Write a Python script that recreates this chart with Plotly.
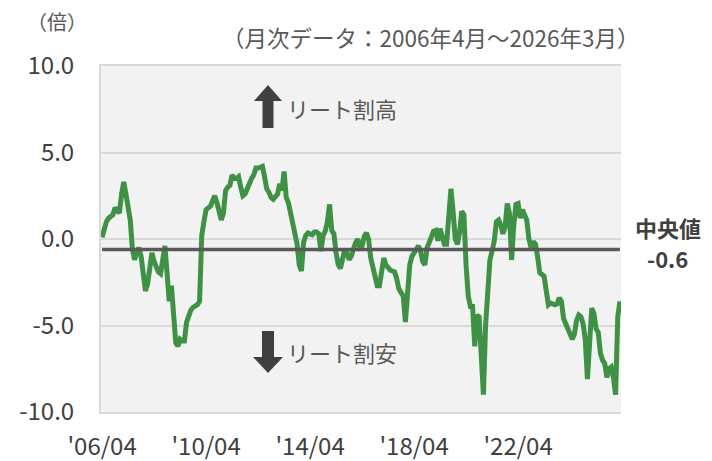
import plotly.graph_objects as go

# 月次データ 2006/04 - 2026/03 (各行 = 4月〜翌3月)
VALUES = [
    0.1, 0.6, 1.0, 1.2, 1.3, 1.4, 1.8, 1.6, 1.5, 2.6, 3.3, 2.6,
    2.0, 1.1, -0.6, -1.2, -0.8, -0.5, -1.0, -2.2, -3.0, -2.6, -1.5, -0.8,
    -1.3, -1.7, -1.9, -2.0, -1.3, -0.4, -2.0, -3.6, -2.7, -4.5, -6.0, -6.2,
    -5.8, -5.9, -5.9, -4.8, -4.4, -4.1, -3.95, -3.85, -3.8, -3.6, 0.2, 1.0,
    1.7, 1.8, 1.9, 2.2, 2.5, 2.1, 1.6, 1.1, 1.5, 2.8, 3.0, 3.1,
    3.7, 3.5, 3.5, 3.6, 3.0, 2.5, 2.6, 2.9, 3.3, 3.5, 3.7, 4.1,
    4.1, 4.15, 4.2, 3.6, 2.9, 2.7, 2.4, 2.3, 2.5, 2.6, 3.2, 2.8,
    3.9, 2.4, 2.1, 1.4, 0.6, 0.3, -0.3, -1.5, -1.85, -0.2, 0.2, 0.35,
    0.3, 0.25, 0.4, 0.4, 0.3, -0.7, 0.2, 0.45, 1.0, 2.0, 0.5, 0.3,
    -0.8, -1.5, -1.7, -1.0, -0.6, -0.8, -1.2, -1.0, -0.5, -0.2, 0.0, -0.5,
    -0.4, 0.15, 0.35, 0.0, -1.1, -1.6, -2.2, -2.7, -2.7, -1.7, -1.1, -1.5,
    -1.7, -1.8, -1.85, -1.9, -2.3, -2.9, -3.1, -3.3, -4.8, -2.9, -1.5, -1.0,
    -0.8, -0.5, -0.4, -0.7, -1.3, -1.5, -0.5, -0.2, 0.1, 0.45, 0.5, -0.1,
    0.6, 0.2, -0.3, -0.3, 1.2, 2.9, 1.6, 0.0, -0.3, 0.4, 1.6, 1.4,
    -1.5, -3.3, -3.9, -3.9, -6.2, -4.4, -4.5, -6.8, -9.0, -5.0, -2.5, -1.2,
    -0.7, -0.1, 1.0, 1.1, 0.8, 0.3, 0.7, 2.05, 1.5, -1.2, 0.8, 2.0,
    2.05, 1.2, 1.7, 1.4, 1.1, 0.0, -0.5, -0.15, -0.3, -1.0, -1.95, -2.05,
    -2.15, -3.0, -3.8, -3.7, -3.75, -3.8, -3.75, -3.4, -3.6, -4.6, -4.9, -5.2,
    -5.5, -5.8, -5.5, -4.7, -4.4, -4.5, -4.9, -5.8, -8.1, -5.5, -4.0, -4.3,
    -5.2, -5.4, -6.6, -7.0, -7.2, -8.0, -7.5, -7.4, -8.0, -9.0, -4.5, -3.6,
]
MONTHS = list(range(len(VALUES)))
MEDIAN = -0.6

X_TICKS = [0, 48, 96, 144, 192]
X_LABELS = ["'06/04", "'10/04", "'14/04", "'18/04", "'22/04"]
Y_TICKS = [10, 5, 0, -5, -10]
Y_LABELS = ["10.0", "5.0", "0.0", "-5.0", "-10.0"]

_FONT = "Noto Sans CJK JP"
_GREEN = "#3f9146"
_DARK = "#404040"
_GREY = "#595959"
_GRID = "#d9d9d9"
_BG = "#f2f2f2"

W, H = 712, 461
ML, MR, MT, MB = 101, 91, 66, 49


def _p(x, y):
    # pixel -> paper
    return (x - ML) / (W - ML - MR), (H - MB - y) / (H - MT - MB)


def _arrow_path(pts):
    conv = [_p(x, y) for x, y in pts]
    return "M " + " L ".join(f"{a:.4f},{b:.4f}" for a, b in conv) + " Z"


fig = go.Figure()
fig.add_trace(go.Scatter(
    x=MONTHS, y=VALUES, mode="lines",
    line=dict(color=_GREEN, width=5),
    hoverinfo="skip",
))
fig.add_trace(go.Scatter(
    x=[MONTHS[0], MONTHS[-1]], y=[MEDIAN, MEDIAN], mode="lines",
    line=dict(color=_GREY, width=3.5),
    hoverinfo="skip",
))

up = [(268, 85), (282, 101), (273.5, 101), (273.5, 128), (262.5, 128), (262.5, 101), (254, 101)]
down = [(268, 373), (283, 357), (274, 357), (274, 331), (262, 331), (262, 357), (253, 357)]
for pts in (up, down):
    fig.add_shape(type="path", xref="paper", yref="paper", path=_arrow_path(pts),
                  fillcolor=_DARK, line=dict(width=0))

ann = [
    (57, 21, "（倍）", "center", 20, False, _GREY),
    (430, 37, "（月次データ：2006年4月～2026年3月）", "center", 22.5, False, _GREY),
    (285, 108, "リート割高", "left", 22, False, _GREY),
    (285, 352, "リート割安", "left", 22, False, _GREY),
    (668, 227, "中央値", "center", 22, True, _DARK),
    (667, 258, f"{MEDIAN:.1f}", "center", 22, True, _DARK),
]
for x, y, t, xa, size, bold, col in ann:
    px_, py_ = _p(x, y)
    fig.add_annotation(
        x=px_, y=py_, xref="paper", yref="paper", xanchor=xa, yanchor="middle",
        text=f"<b>{t}</b>" if bold else t, showarrow=False,
        font=dict(family=_FONT, size=size, color=col),
    )

fig.update_layout(
    width=W, height=H,
    margin=dict(l=ML, r=MR, t=MT, b=MB, autoexpand=False),
    paper_bgcolor="white",
    plot_bgcolor=_BG,
    showlegend=False,
    font=dict(family=_FONT, size=24, color=_DARK),
    xaxis=dict(
        range=[-0.5, len(VALUES) - 0.5],
        tickvals=X_TICKS, ticktext=X_LABELS,
        showgrid=False, zeroline=False, automargin=False,
        showline=True, linecolor=_GRID, linewidth=2, mirror=True,
        ticks="", ticklabelstandoff=12,
        tickfont=dict(family=_FONT, size=24, color=_DARK),
    ),
    yaxis=dict(
        range=[-10, 10],
        tickvals=Y_TICKS, ticktext=Y_LABELS,
        showgrid=True, gridcolor=_GRID, gridwidth=2,
        zeroline=True, zerolinecolor=_GRID, zerolinewidth=2, automargin=False,
        showline=True, linecolor=_GRID, linewidth=2,
        ticks="", ticklabelstandoff=20,
        tickfont=dict(family=_FONT, size=24, color=_DARK),
    ),
)

fig.write_html(
    "out.html",
    config={"displayModeBar": False},
    post_script="document.body.style.margin='0';",
)
